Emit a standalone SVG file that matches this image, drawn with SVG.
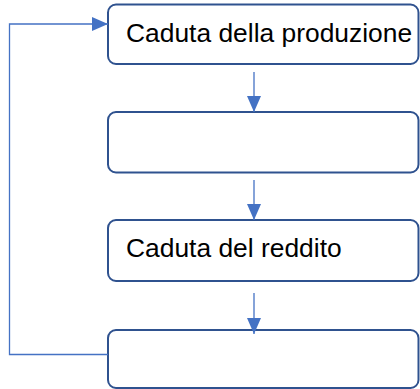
<svg xmlns="http://www.w3.org/2000/svg" width="420" height="389" viewBox="0 0 420 389">
<style>
.box{fill:#fff;stroke:#2F528F;stroke-width:2}
.lbl{font-family:"Liberation Sans",Arial,sans-serif;font-size:26.4px;fill:#000}
.con{fill:none;stroke:#4472C4;stroke-width:1.3}
</style>
<defs>
<marker id="ah" viewBox="0 0 16 14" refX="16" refY="7" markerWidth="16" markerHeight="14" markerUnits="userSpaceOnUse" orient="auto">
<path d="M0,0 L16,7 L0,14 z" fill="#4472C4"/>
</marker>
</defs>
<rect width="420" height="389" fill="#fff"/>
<g id="node1"><rect class="box" x="108" y="4.5" width="310.5" height="59.5" rx="8"/><text class="lbl" x="126" y="42">Caduta della produzione</text></g>
<g id="node2"><rect class="box" x="108" y="112" width="310.5" height="60.5" rx="8"/></g>
<g id="node3"><rect class="box" x="108" y="220" width="310.5" height="61" rx="8"/><text class="lbl" x="126" y="257">Caduta del reddito</text></g>
<g id="node4"><rect class="box" x="108" y="330" width="310.5" height="58" rx="8"/></g>
<g id="connectors">
<line class="con" x1="254" y1="72" x2="254" y2="112" marker-end="url(#ah)"/>
<line class="con" x1="254" y1="180" x2="254" y2="220" marker-end="url(#ah)"/>
<line class="con" x1="254" y1="293" x2="254" y2="334" marker-end="url(#ah)"/>
<polyline class="con" points="108,354.5 9.5,354.5 9.5,24 108,24" marker-end="url(#ah)"/>
</g>
</svg>
